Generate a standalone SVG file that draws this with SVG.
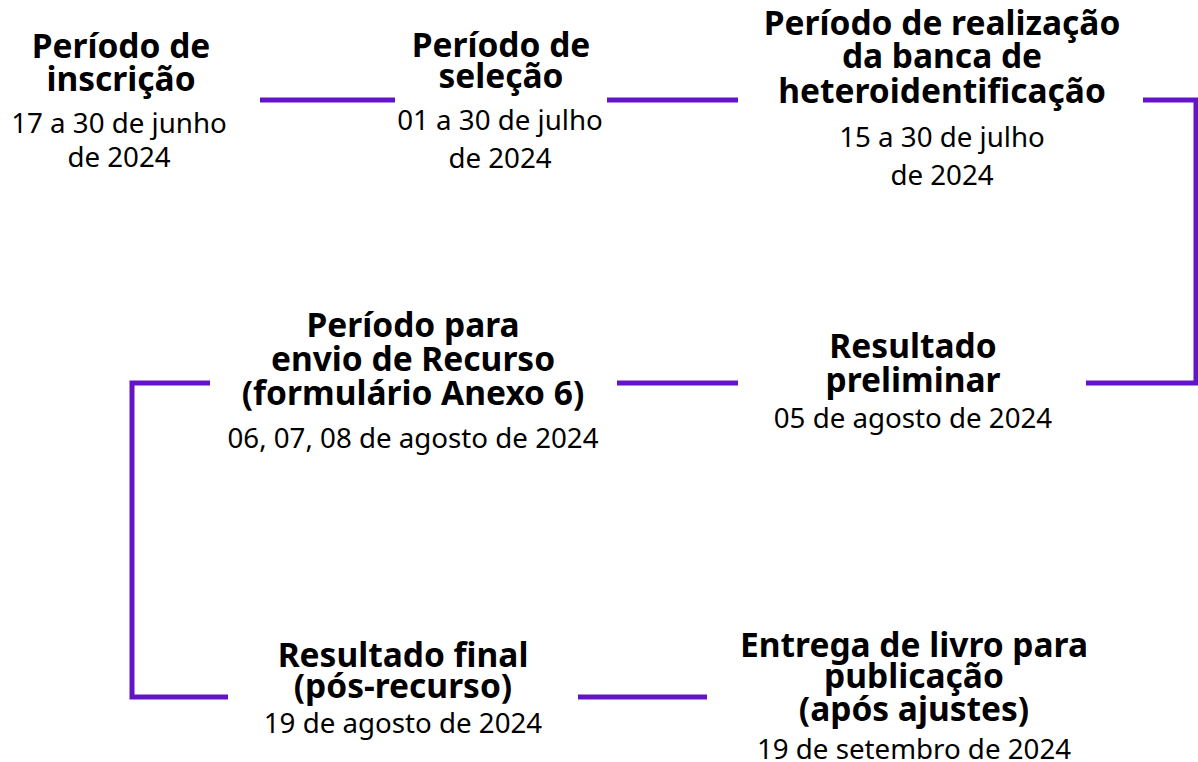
<svg xmlns="http://www.w3.org/2000/svg" width="1198" height="762" viewBox="0 0 1198 762">
<style>
.t{font-family:"Noto Sans","Source Sans Pro","Liberation Sans",sans-serif;text-anchor:middle;fill:#000}
.b{font-weight:bold;font-size:33.5px}
.r{font-size:27.7px}
.c{fill:none;stroke:#6414c8;stroke-width:5}
</style>
<rect width="1198" height="762" fill="#fff"/>
<g id="connectors">
<path class="c" d="M260 100H395"/>
<path class="c" d="M607 100H738"/>
<path class="c" d="M1143 100H1196V383H1086"/>
<path class="c" d="M617 383H738"/>
<path class="c" d="M210 383H132V697H228"/>
<path class="c" d="M578 697H707"/>
</g>
<g id="n1" class="t">
<text class="b" x="121" y="58">Período de</text>
<text class="b" x="121" y="91">inscrição</text>
<text class="r" x="119" y="133">17 a 30 de junho</text>
<text class="r" x="119" y="167">de 2024</text>
</g>
<g id="n2" class="t">
<text class="b" x="501" y="57">Período de</text>
<text class="b" x="501" y="88">seleção</text>
<text class="r" x="500" y="130">01 a 30 de julho</text>
<text class="r" x="500" y="168">de 2024</text>
</g>
<g id="n3" class="t">
<text class="b" x="942" y="35">Período de realização</text>
<text class="b" x="942" y="68">da banca de</text>
<text class="b" x="942" y="103">heteroidentificação</text>
<text class="r" x="942" y="147">15 a 30 de julho</text>
<text class="r" x="942" y="185">de 2024</text>
</g>
<g id="n4" class="t">
<text class="b" x="413" y="337">Período para</text>
<text class="b" x="413" y="371">envio de Recurso</text>
<text class="b" x="413" y="405">(formulário Anexo 6)</text>
<text class="r" x="413" y="448">06, 07, 08 de agosto de 2024</text>
</g>
<g id="n5" class="t">
<text class="b" x="913" y="358">Resultado</text>
<text class="b" x="913" y="392">preliminar</text>
<text class="r" x="913" y="428">05 de agosto de 2024</text>
</g>
<g id="n6" class="t">
<text class="b" x="403" y="667">Resultado final</text>
<text class="b" x="403" y="698">(pós-recurso)</text>
<text class="r" x="403" y="733">19 de agosto de 2024</text>
</g>
<g id="n7" class="t">
<text class="b" x="914" y="657">Entrega de livro para</text>
<text class="b" x="914" y="688">publicação</text>
<text class="b" x="914" y="721">(após ajustes)</text>
<text class="r" x="914" y="759">19 de setembro de 2024</text>
</g>
</svg>
